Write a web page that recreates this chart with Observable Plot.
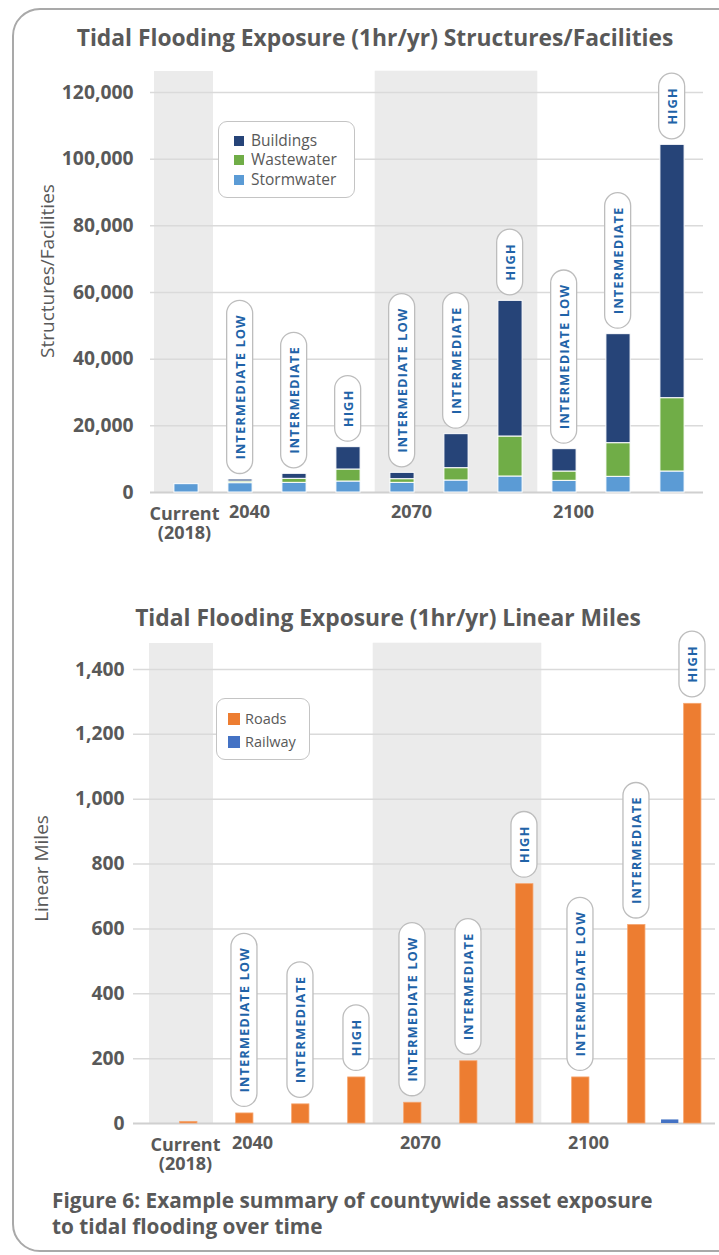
<!DOCTYPE html>
<html><head><meta charset="utf-8">
<script src="https://cdn.jsdelivr.net/npm/d3@7"></script>
<script src="https://cdn.jsdelivr.net/npm/@observablehq/plot@0.6"></script>
<style>
html,body{margin:0;padding:0;background:#fff;}
#root{position:relative;width:719px;height:1255px;overflow:hidden;font-family:"Open Sans",sans-serif;color:#595959;background:#fff;}
.frame{position:absolute;left:12px;top:8px;width:780px;height:1244px;border:2px solid #a9a9a9;border-radius:28px;box-sizing:border-box;}
.title{position:absolute;font-weight:700;font-size:22.8px;line-height:28px;text-align:center;white-space:nowrap;color:#595959;}
.chart{position:absolute;left:0;}
.legend{position:absolute;border:1.5px solid #c4c4c4;border-radius:9px;background:#fff;box-sizing:border-box;}
.legend .item{position:absolute;display:flex;align-items:center;height:18px;line-height:1;white-space:nowrap;color:#595959;}
.legend .sw{display:inline-block;flex:none;}
.caption{position:absolute;left:52px;top:1187px;font-weight:700;font-size:20.8px;line-height:26px;color:#595959;white-space:nowrap;}
</style>
</head>
<body>
<div id="root">
  <div class="frame"></div>
  <div class="title" id="t1" style="left:30px;width:690px;top:24px;"></div>
  <div class="chart" id="c1" style="top:60px;"></div>
  <div class="legend" id="l1" style="left:218px;top:121px;width:137px;height:77px;"></div>
  <div class="title" id="t2" style="left:43px;width:690px;top:604px;"></div>
  <div class="chart" id="c2" style="top:630px;"></div>
  <div class="legend" id="l2" style="left:216px;top:698px;width:94px;height:62px;"></div>
  <div class="caption" id="cap"></div>
</div>
<script>
// ---------- DATA ----------
const title1 = "Tidal Flooding Exposure (1hr/yr) Structures/Facilities";
const title2 = "Tidal Flooding Exposure (1hr/yr) Linear Miles";
const captionLines = ["Figure 6: Example summary of countywide asset exposure", "to tidal flooding over time"];
const yLabel1 = "Structures/Facilities";
const yLabel2 = "Linear Miles";

const categories = ["Current","2040 IL","2040 INT","2040 HIGH","2070 IL","2070 INT","2070 HIGH","2100 IL","2100 INT","2100 HIGH"];
const scenarioLabels = ["","INTERMEDIATE LOW","INTERMEDIATE","HIGH","INTERMEDIATE LOW","INTERMEDIATE","HIGH","INTERMEDIATE LOW","INTERMEDIATE","HIGH"];
const tickCats = ["Current","2040 IL","2070 IL","2100 IL"];
const tickLabels = ["Current\n(2018)","2040","2070","2100"];
const shadedCurrent = ["Current"];
const shaded2070 = ["2070 IL","2070 INT","2070 HIGH"];

// Structures / facilities (stack order bottom -> top: Stormwater, Wastewater, Buildings)
const structSeries = ["Buildings","Wastewater","Stormwater"];
const structColors = ["#264478","#70AD47","#5B9BD5"];
const stormwater = [2500, 2800, 2900, 3300, 2900, 3600, 4800, 3500, 4700, 6300];
const wastewater = [0, 500, 1200, 3600, 1100, 3700, 12000, 2800, 10100, 22000];
const buildings  = [0, 600, 1500, 6700, 1900, 10200, 40700, 6700, 32700, 76000];
const structTicks = [0, 20000, 40000, 60000, 80000, 100000, 120000];
const structMax = 126300;

// Linear miles
const mileSeries = ["Roads","Railway"];
const mileColors = ["#ED7D31","#4472C4"];
const roads   = [5, 31, 59, 142, 64, 192, 738, 142, 612, 1294];
const railway = [0, 0, 0, 0, 0, 0, 0, 0, 0, 11];
const mileTicks = [0, 200, 400, 600, 800, 1000, 1200, 1400];
const milesMax = 1480;

// ---------- HELPERS ----------
const fmt = d3.format(",");
const FONT = "Open Sans";
const GRAY = "#595959";
const PILL = "#2163a8";

function addPills(svg) {
  const texts = new Set([
    ...svg.querySelectorAll('text[aria-label="pill"]'),
    ...svg.querySelectorAll('g[aria-label="pill"] text'),
    ...svg.querySelectorAll('g[fill="' + PILL + '"] text')
  ]);
  texts.forEach(t => {
    t.style.letterSpacing = "1px";
    const bb = t.getBBox();
    const padL = 14, th = 26;
    const cy = bb.y + bb.height / 2;
    const r = document.createElementNS("http://www.w3.org/2000/svg", "rect");
    r.setAttribute("x", bb.x - padL);
    r.setAttribute("width", bb.width + 2 * padL);
    r.setAttribute("y", cy - th / 2);
    r.setAttribute("height", th);
    r.setAttribute("rx", th / 2);
    r.setAttribute("ry", th / 2);
    const tr = t.getAttribute("transform");
    if (tr) r.setAttribute("transform", tr);
    r.setAttribute("fill", "#ffffff");
    r.setAttribute("stroke", "#bdbdbd");
    r.setAttribute("stroke-width", "1.3");
    t.parentNode.insertBefore(r, t);
  });
}

function buildLegend(el, names, colors, opts) {
  names.forEach((n, i) => {
    const it = document.createElement("div");
    it.className = "item";
    it.style.left = opts.left + "px";
    it.style.top = (opts.rows[i] - 9) + "px";
    it.style.fontSize = opts.fontSize + "px";
    const sw = document.createElement("span");
    sw.className = "sw";
    sw.style.width = opts.sw + "px";
    sw.style.height = opts.sw + "px";
    sw.style.background = colors[i];
    sw.style.marginRight = opts.gap + "px";
    it.appendChild(sw);
    it.appendChild(document.createTextNode(n));
    el.appendChild(it);
  });
}

document.getElementById("t1").textContent = title1;
document.getElementById("t2").textContent = title2;
document.getElementById("cap").innerHTML = captionLines.join("<br>");

// ---------- CHART 1 ----------
const structRows = [];
categories.forEach((c, i) => {
  structRows.push({cat: c, series: "Stormwater", value: stormwater[i]});
  structRows.push({cat: c, series: "Wastewater", value: wastewater[i]});
  structRows.push({cat: c, series: "Buildings", value: buildings[i]});
});
const structTotals = categories.map((c, i) => ({cat: c, total: stormwater[i] + wastewater[i] + buildings[i], label: scenarioLabels[i]})).filter(d => d.label);
const ticks1 = tickCats.map((c, i) => ({cat: c, label: tickLabels[i]}));

const plot1 = Plot.plot({
  width: 719, height: 490,
  marginTop: 11, marginBottom: 58, marginLeft: 150, marginRight: 16,
  style: {fontFamily: FONT, color: GRAY, background: "transparent", overflow: "visible"},
  x: {domain: categories, range: [155, 703], padding: 0, axis: null},
  y: {domain: [0, structMax], axis: null},
  color: {domain: structSeries, range: structColors},
  marks: [
    Plot.barY(shadedCurrent, {x: d => d, y1: 0, y2: structMax, fill: "#ebebeb", insetLeft: -5}),
    Plot.barY(shaded2070, {x: d => d, y1: 0, y2: structMax, fill: "#ebebeb", stroke: "#ebebeb", strokeWidth: 0.6}),
    Plot.ruleY(structTicks.filter(d => d > 0), {stroke: "#dadada", strokeWidth: 1.5}),
    Plot.ruleY([0], {stroke: "#d0d0d0", strokeWidth: 2}),
    Plot.text(structTicks, {frameAnchor: "left", y: d => d, text: d => fmt(d), textAnchor: "end", dx: -17, fontSize: 19.3, fontWeight: 700, fill: GRAY}),
    Plot.text([yLabel1], {frameAnchor: "left", text: d => d, textAnchor: "middle", rotate: -90, dx: -103, dy: -11, fontSize: 19, fill: GRAY}),
    Plot.barY(structRows, {x: "cat", y: "value", fill: "series", stroke: "white", strokeWidth: 1, insetLeft: 14.9, insetRight: 14.9}),
    Plot.text(ticks1.filter(d => d.cat === "Current"), {x: "cat", y: 0, text: "label", lineAnchor: "top", lineHeight: 1.1, dy: 13, dx: -2, fontSize: 18, fontWeight: 700, fill: GRAY}),
    Plot.text(ticks1.filter(d => d.cat !== "Current"), {x: "cat", y: 0, text: "label", lineAnchor: "top", dy: 13, dx: 9, fontSize: 18, fontWeight: 700, fill: GRAY}),
    Plot.text(structTotals, {x: "cat", y: "total", text: "label", rotate: -90, textAnchor: "start", lineAnchor: "middle", dy: -20, fontSize: 13, fontWeight: 700, fill: PILL, ariaLabel: "pill"})
  ]
});
document.getElementById("c1").appendChild(plot1);
addPills(plot1);
buildLegend(document.getElementById("l1"), structSeries, structColors, {left: 15, rows: [19, 38, 58], fontSize: 15.5, sw: 10, gap: 7});

// ---------- CHART 2 ----------
const roadRows = categories.map((c, i) => ({cat: c, value: roads[i]}));
const railRows = categories.map((c, i) => ({cat: c, value: railway[i]}));
const roadTotals = categories.map((c, i) => ({cat: c, total: roads[i], label: scenarioLabels[i]})).filter(d => d.label);

const plot2 = Plot.plot({
  width: 719, height: 550,
  marginTop: 13, marginBottom: 57, marginLeft: 133, marginRight: 4,
  style: {fontFamily: FONT, color: GRAY, background: "transparent", overflow: "visible"},
  x: {domain: categories, range: [145, 712], padding: 0, axis: null},
  y: {domain: [0, milesMax], axis: null},
  marks: [
    Plot.barY(shadedCurrent, {x: d => d, y1: 0, y2: milesMax, fill: "#ebebeb", insetRight: -8}),
    Plot.barY(shaded2070, {x: d => d, y1: 0, y2: milesMax, fill: "#ebebeb", stroke: "#ebebeb", strokeWidth: 0.6}),
    Plot.ruleY(mileTicks.filter(d => d > 0), {stroke: "#dadada", strokeWidth: 1.5}),
    Plot.ruleY([0], {stroke: "#d0d0d0", strokeWidth: 2}),
    Plot.text(mileTicks, {frameAnchor: "left", y: d => d, text: d => fmt(d), textAnchor: "end", dx: -9, fontSize: 19.3, fontWeight: 700, fill: GRAY}),
    Plot.text([yLabel2], {frameAnchor: "left", text: d => d, textAnchor: "middle", rotate: -90, dx: -92, dy: -15, fontSize: 19, fill: GRAY}),
    Plot.barY(railRows, {x: "cat", y: "value", fill: mileColors[1], insetLeft: 8.05, insetRight: 30.65}),
    Plot.barY(roadRows, {x: "cat", y: "value", fill: mileColors[0], stroke: "#f6a46e", strokeWidth: 0.8, insetLeft: 30.65, insetRight: 8.05}),
    Plot.text(ticks1.filter(d => d.cat === "Current"), {x: "cat", y: 0, text: "label", lineAnchor: "top", lineHeight: 1.1, dy: 13, dx: 8, fontSize: 18, fontWeight: 700, fill: GRAY}),
    Plot.text(ticks1.filter(d => d.cat !== "Current"), {x: "cat", y: 0, text: "label", lineAnchor: "top", dy: 13, dx: 19, fontSize: 18, fontWeight: 700, fill: GRAY}),
    Plot.text(roadTotals, {x: "cat", y: "total", text: "label", rotate: -90, textAnchor: "start", lineAnchor: "middle", dx: 11.3, dy: -21, fontSize: 13, fontWeight: 700, fill: PILL, ariaLabel: "pill"})
  ]
});
document.getElementById("c2").appendChild(plot2);
addPills(plot2);
buildLegend(document.getElementById("l2"), mileSeries, mileColors, {left: 11, rows: [20, 43], fontSize: 14.5, sw: 12, gap: 5});
</script>
</body></html>
